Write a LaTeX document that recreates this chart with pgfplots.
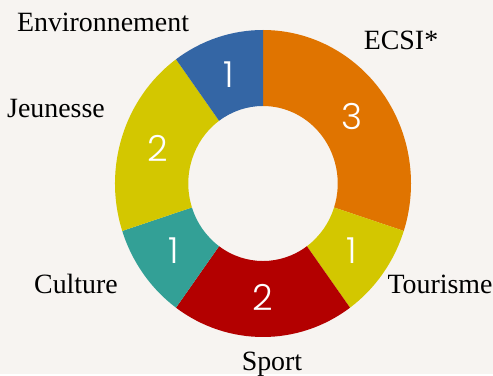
\documentclass[border=0pt]{standalone}
\usepackage{fontspec}
\setmainfont{Liberation Serif}
\newfontfamily\numfont{Poppins}[UprightFont={* Light}]
\usepackage{pgfplots}
\pgfplotsset{compat=1.18}
\usepackage{pgfplotstable}

\definecolor{bg}{HTML}{F7F4F1}
\definecolor{cEnv}{HTML}{3466A5}
\definecolor{cECSI}{HTML}{E07400}
\definecolor{cTour}{HTML}{D3C700}
\definecolor{cSport}{HTML}{B30000}
\definecolor{cCult}{HTML}{33A096}
\definecolor{cJeun}{HTML}{D3C700}

% slices in clockwise order from the top
\pgfplotstableread[col sep=comma]{
name,value,colour
ECSI*,3,cECSI
Tourisme,1,cTour
Sport,2,cSport
Culture,1,cCult
Jeunesse,2,cJeun
Environnement,1,cEnv
}\slices

\begin{document}
\begin{tikzpicture}
\fill[bg] (0,0) rectangle (493bp,374bp);
\begin{axis}[
  at={(263bp,190.5bp)}, anchor=origin,
  scale only axis, width=296bp, height=307bp,
  xmin=-1, xmax=1, ymin=-1, ymax=1,
  hide axis, clip=false
]
\pgfplotstablegetrowsof{\slices}
\pgfmathtruncatemacro\N{\pgfplotsretval-1}
\def\start{90}
\pgfplotsforeachungrouped \i in {0,...,\N}{%
  \pgfplotstablegetelem{\i}{value}\of\slices \let\v\pgfplotsretval
  \pgfplotstablegetelem{\i}{colour}\of\slices \let\c\pgfplotsretval
  \pgfmathsetmacro\stop{\start-36*\v}%
  \pgfmathsetmacro\mid{(\start+\stop)/2}%
  \edef\temp{\noexpand\fill[\c] (axis cs:{cos(\start)},{sin(\start)})
    arc[start angle=\start, end angle=\stop, x radius=148bp, y radius=153.5bp]
    -- (axis cs:{0.505*cos(\stop)},{0.505*sin(\stop)})
    arc[start angle=\stop, end angle=\start, x radius=74.7bp, y radius=77.5bp]
    -- cycle;
    \noexpand\node[text=white, font=\noexpand\numfont\noexpand\fontsize{36}{36}\noexpand\selectfont]
      at (axis cs:{0.745*cos(\mid)},{0.745*sin(\mid)}) {\v};}%
  \temp
  \let\start\stop
}
\end{axis}
\begin{scope}[every node/.style={font=\fontsize{28}{28}\selectfont, anchor=base, inner sep=0pt}]
\node at (103bp,342bp) {Environnement};
\node at (401bp,324bp) {ECSI*};
\node at (56bp,256bp) {Jeunesse};
\node at (76bp,81bp) {Culture};
\node at (440bp,81bp) {Tourisme};
\node at (272bp,4bp) {Sport};
\end{scope}
\end{tikzpicture}
\end{document}
